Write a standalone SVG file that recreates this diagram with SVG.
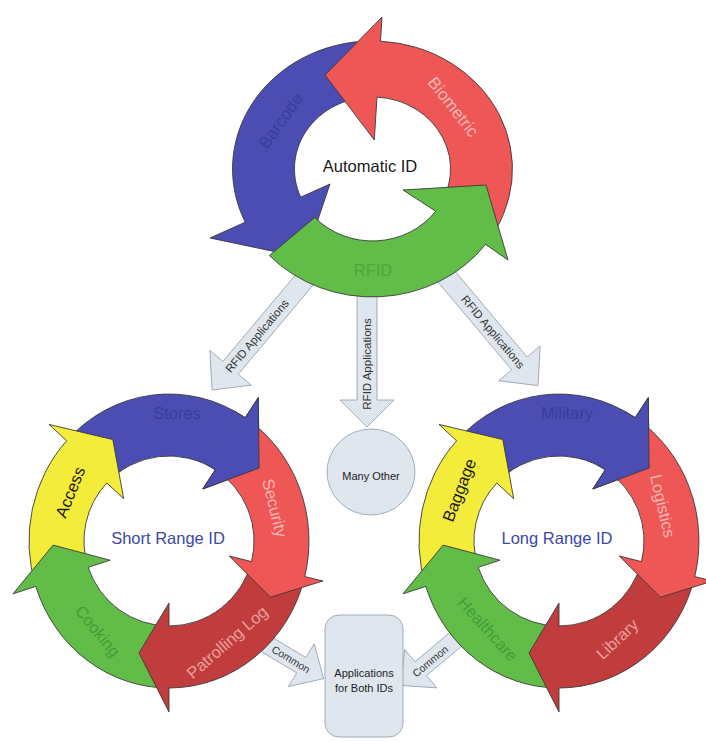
<svg xmlns="http://www.w3.org/2000/svg" width="706" height="742" viewBox="0 0 706 742">
<defs>
<style>
text { font-family: "Liberation Sans", Arial, sans-serif; text-anchor: middle; dominant-baseline: central; }
.seg { stroke: #3a3a3a; stroke-width: 0.9; stroke-linejoin: round; }
.blue { fill: #4b4db2; }
.red { fill: #ef5656; }
.dred { fill: #c13c3c; }
.green { fill: #62bd48; }
.yellow { fill: #f4ec3b; }
.lbl { font-size: 16.5px; }
.conn { fill: #dfe6ee; stroke: #98a3af; stroke-width: 0.9; stroke-linejoin: round; }
.ctext { font-size: 11.5px; fill: #333333; }
.box { fill: #dfe6ee; stroke: #9aa5b1; stroke-width: 0.9; }
.t-blue { fill: #393c9e; }
.t-pink { fill: #f7b8b3; }
.t-dpink { fill: #e8a09e; }
.t-green { fill: #3f9f37; }
.t-black { fill: #1a1a1a; }
.t-title { fill: #3b48a6; font-size: 16.5px; }
</style>
<path id="p-blue" class="seg blue" d="M 66.6 440.8 A 140 147 0 0 1 245.2 417.7 L 258.3 397.6 L 259.1 468 L 202.8 489 L 215.3 469.7 A 85 85 0 0 0 106.8 483 Z"/>
<path id="p-red" class="seg red" d="M 245.2 417.7 A 140 147 0 0 1 304.8 576.6 L 323 581 L 270.5 597.2 L 229.2 556 L 251.5 561.6 A 85 85 0 0 0 215.3 469.7 Z"/>
<path id="p-dred" class="seg dred" d="M 304.8 576.6 A 140 147 0 0 1 169 688 L 169 712 L 139 653 L 169 603 L 169 626 A 85 85 0 0 0 251.5 561.6 Z"/>
<path id="p-green" class="seg green" d="M 169 688 A 140 147 0 0 1 35.8 586.4 L 13 593.8 L 53.1 545.1 L 110 560.2 L 88.2 567.3 A 85 85 0 0 0 169 626 Z"/>
<path id="p-yellow" class="seg yellow" d="M 35.8 586.4 A 140 147 0 0 1 66.6 440.8 L 49 424.4 L 112.8 439.6 L 123.7 498.7 L 106.8 483 A 85 85 0 0 0 88.2 567.3 Z"/>
<clipPath id="bhead" clipPathUnits="userSpaceOnUse"><polygon points="169,541 264.3,353.9 345.1,426.6"/></clipPath>
</defs>

<rect x="0" y="0" width="706" height="742" fill="#ffffff"/>

<g id="connectors">
  <polygon class="conn" points="318.7,278.4 238.3,374.2 251.3,385.2 212,390 209.9,350.4 222.9,361.4 303.3,265.6"/>
  <text class="ctext" transform="translate(257,336) rotate(-50)">RFID Applications</text>
  <polygon class="conn" points="357,275 357,400 340,400 367,427 394,400 377,400 377,275"/>
  <text class="ctext" transform="translate(367,364) rotate(-90)">RFID Applications</text>
  <polygon class="conn" points="446.7,261.3 527.1,357 540.1,346 538,385.6 498.7,380.8 511.7,369.8 431.3,274.1"/>
  <text class="ctext" transform="translate(493,332) rotate(50)">RFID Applications</text>
  <polygon class="conn" points="254.5,626.6 305.9,657.5 314.2,643.8 323.6,678.6 288.4,686.6 296.7,672.9 245.3,642"/>
  <text class="ctext" style="font-size:10.5px" transform="translate(291,659) rotate(31)">Common</text>
  <polygon class="conn" points="461,623.2 415,661.8 404.7,649.6 400.9,685.4 436.9,687.9 426.6,675.6 472.6,637"/>
  <text class="ctext" style="font-size:10.5px" transform="translate(430,661) rotate(-40)">Common</text>
</g>

<!-- Top cycle: Automatic ID -->
<g id="barcode">
  <path class="seg blue" d="M 380.5 41.2 A 140 128 0 0 0 245.2 222.2 L 210 238 L 305 258 L 330 184 L 300.7 197.2 A 78 72 0 0 1 377 97.1 Z"/>
  <text class="lbl t-blue" style="font-size:17px" transform="translate(281,121) rotate(-55)">Barcode</text>
</g>
<g id="biometric">
  <path class="seg red" d="M 485.6 244.4 A 140 128 0 0 0 380.5 41.2 L 382 17 L 325 75 L 374.3 140 L 377 97.1 A 78 72 0 0 1 435.7 211.2 Z"/>
  <text class="lbl t-pink" style="font-size:17px" transform="translate(453,107) rotate(52)">Biometric</text>
</g>
<g id="rfid">
  <path class="seg green" d="M 269.4 255.5 A 140 128 0 0 0 485.6 244.4 L 508 260 L 486 185 L 403 190 L 435.7 211.2 A 78 72 0 0 1 314.8 217.4 Z"/>
  <text class="lbl" style="fill:#4aa83b" x="373" y="270">RFID</text>
</g>
<g id="automatic-id">
  <text class="lbl t-black" x="370" y="166">Automatic ID</text>
</g>

<!-- Short range cycle -->
<g id="stores">
  <use href="#p-blue"/>
  <text class="lbl t-blue" x="177" y="413">Stores</text>
</g>
<g id="access">
  <use href="#p-yellow"/>
  <text class="lbl t-black" transform="translate(70,492) rotate(-68)">Access</text>
</g>
<g id="cooking">
  <use href="#p-green"/>
  <text class="lbl t-green" transform="translate(98,631) rotate(51)">Cooking</text>
</g>
<g id="patrolling-log">
  <use href="#p-dred"/>
  <text class="lbl t-dpink" transform="translate(227,642) rotate(-41)">Patrolling Log</text>
</g>
<g id="security">
  <use href="#p-red"/>
  <text class="lbl t-pink" transform="translate(275,508) rotate(76)">Security</text>
</g>
<g id="stores-head">
  <use href="#p-blue" clip-path="url(#bhead)"/>
</g>
<g id="short-range-id">
  <text class="t-title" x="168" y="538">Short Range ID</text>
</g>

<!-- Long range cycle -->
<g id="military">
  <use href="#p-blue" x="390"/>
  <text class="lbl t-blue" x="567" y="413">Military</text>
</g>
<g id="baggage">
  <use href="#p-yellow" x="390"/>
  <text class="lbl t-black" transform="translate(459,490) rotate(-69)">Baggage</text>
</g>
<g id="healthcare">
  <use href="#p-green" x="390"/>
  <text class="lbl t-green" transform="translate(488,629) rotate(48)">Healthcare</text>
</g>
<g id="library">
  <use href="#p-dred" x="390"/>
  <text class="lbl t-dpink" transform="translate(617,639) rotate(-43)">Library</text>
</g>
<g id="logistics">
  <use href="#p-red" x="390"/>
  <text class="lbl t-pink" transform="translate(663,506) rotate(77)">Logistics</text>
</g>
<g id="military-head" transform="translate(390,0)">
  <use href="#p-blue" clip-path="url(#bhead)"/>
</g>
<g id="long-range-id">
  <text class="t-title" x="557" y="538">Long Range ID</text>
</g>

<g id="many-other">
  <ellipse class="box" cx="371" cy="472" rx="44" ry="43"/>
  <text style="font-size:11px;fill:#222" x="371" y="476">Many Other</text>
</g>
<g id="applications-both">
  <rect class="box" x="325" y="615" width="78" height="122" rx="14" ry="14"/>
  <text style="font-size:11px;fill:#222" x="364" y="673">Applications</text>
  <text style="font-size:11px;fill:#222" x="364" y="688">for Both IDs</text>
</g>
</svg>
